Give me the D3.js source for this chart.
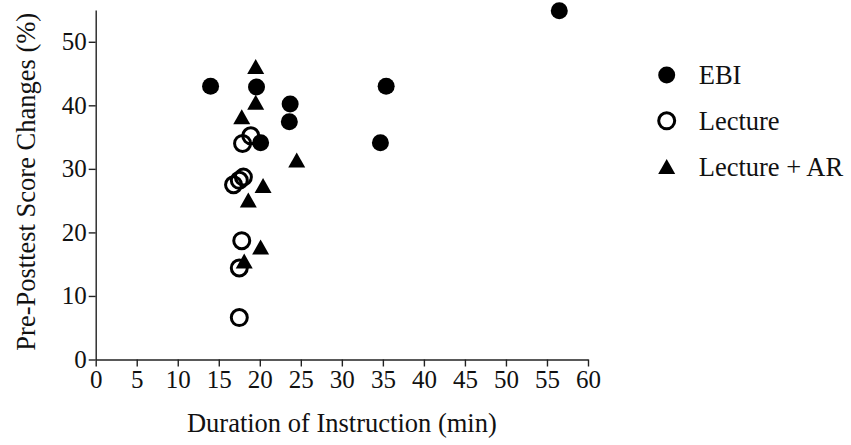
<!DOCTYPE html>
<html>
<head>
<meta charset="utf-8">
<script src="https://cdnjs.cloudflare.com/ajax/libs/d3/7.8.5/d3.min.js"></script>
<style>
  body { margin: 0; background: #fff; }
</style>
</head>
<body>
<div class="chart"></div>
<script>
// values
const ebiX = [14.0, 19.6, 23.7, 23.6, 20.1, 35.4, 34.7, 56.5];
const ebiY = [43.0, 42.9, 40.2, 37.4, 34.1, 43.0, 34.1, 54.9];
const lectureX = [18.9, 17.9, 16.8, 17.5, 18.0, 17.8, 17.5, 17.5];
const lectureY = [35.2, 34.0, 27.5, 28.2, 28.7, 18.7, 14.4, 6.6];
const arX = [19.5, 19.5, 17.8, 24.5, 20.4, 18.6, 20.1, 18.1];
const arY = [46.1, 40.5, 38.2, 31.4, 27.4, 25.1, 17.7, 15.5];

const seriesNames = ['EBI', 'Lecture', 'Lecture + AR'];
const xTicks = [0, 5, 10, 15, 20, 25, 30, 35, 40, 45, 50, 55, 60];
const yTicks = [0, 10, 20, 30, 40, 50];

const xTitle = 'Duration of Instruction (min)';
const yTitle = 'Pre-Posttest Score Changes (%)';

const serif = "'Liberation Serif'";

const margin = {top: 10, right: 263, bottom: 85.5, left: 95.7};
const svgWidth = 851, svgHeight = 445;
const width = svgWidth - margin.left - margin.right,
      height = svgHeight - margin.top - margin.bottom;

const svg = d3.select('.chart').append('svg')
    .attr('width', svgWidth)
    .attr('height', svgHeight);
const g = svg.append('g')
    .attr('transform', 'translate(' + margin.left + ',' + margin.top + ')');

const x = d3.scaleLinear().domain([0, 60]).range([0, width]);
const y = d3.scaleLinear().domain([0, 55]).range([height, 0]);

const xAxis = d3.axisBottom(x).tickValues(xTicks).tickSize(7).tickSizeOuter(0).tickPadding(4);
const yAxis = d3.axisLeft(y).tickValues(yTicks).tickSize(7).tickSizeOuter(0).tickPadding(2);

const gx = g.append('g')
    .attr('transform', 'translate(0,' + height + ')')
    .call(xAxis);
const gy = g.append('g').call(yAxis);

[gx, gy].forEach(a => {
  a.selectAll('path, line').attr('stroke', '#222').attr('stroke-width', 1.4);
  a.selectAll('text')
    .style('font-family', serif)
    .style('font-size', '25px')
    .attr('fill', '#111');
});

// axis titles
g.append('text')
    .attr('x', width / 2)
    .attr('y', 422)
    .attr('text-anchor', 'middle')
    .style('font-family', serif)
    .style('font-size', '26.5px')
    .attr('fill', '#111')
    .text(xTitle);

g.append('text')
    .attr('transform', 'rotate(-90)')
    .attr('x', -height / 2 + 3)
    .attr('y', -61)
    .attr('text-anchor', 'middle')
    .style('font-family', serif)
    .style('font-size', '26.5px')
    .attr('fill', '#111')
    .text(yTitle);

// markers
const triPath = 'M0,-7.5L8.5,7.5L-8.5,7.5Z';

const drawMarker = (sel, kind) => {
  if (kind === 0) {
    sel.append('circle').attr('r', 8.5).attr('fill', '#000');
  } else if (kind === 1) {
    sel.append('circle').attr('r', 8).attr('fill', 'none')
      .attr('stroke', '#000').attr('stroke-width', 3);
  } else {
    sel.append('path').attr('d', triPath).attr('fill', '#000');
  }
};

const series = [
  {xs: ebiX, ys: ebiY},
  {xs: lectureX, ys: lectureY},
  {xs: arX, ys: arY}
];

series.forEach((s, k) => {
  const pts = s.xs.map((v, i) => ({x: v, y: s.ys[i]}));
  g.append('g').selectAll('g')
    .data(pts)
    .enter().append('g')
      .attr('transform', d => 'translate(' + x(d.x) + ',' + y(d.y) + ')')
      .each(function() { drawMarker(d3.select(this), k); });
});

// legend
const legend = svg.append('g').attr('transform', 'translate(666.7,75)');
seriesNames.forEach((name, k) => {
  const item = legend.append('g').attr('transform', 'translate(0,' + (k * 45.8) + ')');
  drawMarker(item, k);
  item.append('text')
    .attr('x', 32)
    .attr('y', 9)
    .style('font-family', serif)
    .style('font-size', '26.5px')
    .attr('fill', '#111')
    .text(name);
});
</script>
</body>
</html>
